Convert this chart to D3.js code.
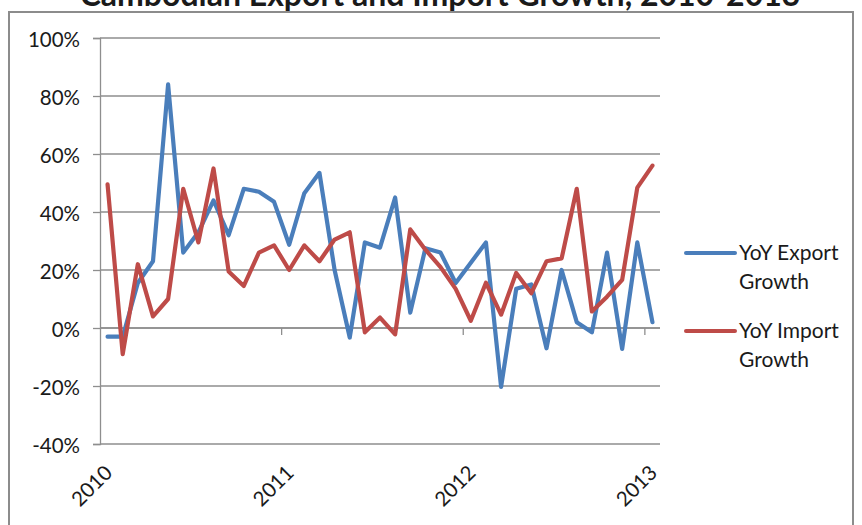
<!DOCTYPE html>
<html>
<head>
<meta charset="utf-8">
<script src="https://cdn.jsdelivr.net/npm/d3@7"></script>
<style>
  html, body { margin: 0; padding: 0; background: #fff; }
  svg { display: block; }
  text { font-family: Lato, "Open Sans", sans-serif; fill: #1a1a1a; }
</style>
</head>
<body>
<svg id="chart" width="862" height="525"></svg>
<script>
// ---- data ----
const title = "Cambodian Export and Import Growth, 2010-2013";
const categories = d3.range(37).map(i => (i % 12 === 0) ? String(2010 + i / 12) : "");
const exportGrowth = [
  -3, -3, 15.5, 23, 84, 26, 33, 44, 32, 48, 47, 43.5,
  28.7, 46.5, 53.5, 20, -3.3, 29.5, 27.7, 45, 5.3, 27.5, 26, 15.5,
  22.5, 29.5, -20.3, 13.5, 15, -7, 20, 2, -1.5, 26, -7.2, 29.5,
  2
];
const importGrowth = [
  49.5, -9, 22, 4, 10, 48, 29.5, 55, 19.5, 14.5, 26, 28.5,
  20, 28.5, 23, 30.5, 33, -1.5, 3.6, -2.2, 34, 27, 21, 13.5,
  2.5, 15.6, 4.6, 19, 12, 23, 24, 48, 5.7, 10.8, 16.6, 48.4,
  56
];
const yTicks = [-40, -20, 0, 20, 40, 60, 80, 100];
const seriesNames = ["YoY Export Growth", "YoY Import Growth"];
const seriesColors = ["#4a7ebb", "#be4b48"];

// ---- layout ----
const svg = d3.select("#chart");
const plot = { left: 100, right: 660, top: 38, bottom: 444 };

// outer frame
svg.append("path")
  .attr("d", "M9,530 L9,12 L853,12 L853,530")
  .attr("fill", "none").attr("stroke", "#8c8c8c").attr("stroke-width", 2);

// title (cut off at top like the reference)
svg.append("text")
  .attr("x", 440).attr("y", 6)
  .attr("text-anchor", "middle")
  .attr("font-size", 32).attr("font-weight", "bold")
  .text(title);

const x = d3.scaleLinear().domain([-0.5, categories.length - 0.5]).range([plot.left, plot.right]);
const y = d3.scaleLinear().domain([-40, 100]).range([plot.bottom, plot.top]);

// gridlines
svg.append("g").selectAll("line").data(yTicks).join("line")
  .attr("x1", plot.left).attr("x2", plot.right)
  .attr("y1", d => y(d)).attr("y2", d => y(d))
  .attr("stroke", "#8e8e8e").attr("stroke-width", 1.3);

// y axis
const yAxis = svg.append("g")
  .attr("transform", `translate(${plot.left},0)`)
  .call(d3.axisLeft(y).tickValues(yTicks).tickSize(7).tickPadding(13).tickFormat(d => d + "%"));
yAxis.select(".domain").attr("stroke", "#8e8e8e").attr("stroke-width", 1.3);
yAxis.selectAll(".tick line").attr("stroke", "#8e8e8e").attr("stroke-width", 1.3);
yAxis.selectAll(".tick text").attr("font-size", 20.5).attr("font-family", "Lato, sans-serif").attr("fill", "#1a1a1a").attr("dy", "0.4em");

// x axis along 0% line, ticks between yearly categories
const boundaries = d3.range(0, categories.length + 1, 12).map(i => i - 0.5).filter(v => v > -0.5);
const xAxisG = svg.append("g").attr("transform", `translate(0,${y(0)})`);
xAxisG.append("line")
  .attr("x1", plot.left).attr("x2", plot.right).attr("y1", 0).attr("y2", 0)
  .attr("stroke", "#8e8e8e").attr("stroke-width", 1.3);
xAxisG.selectAll("line.tk").data(boundaries).join("line").attr("class", "tk")
  .attr("x1", d => x(d)).attr("x2", d => x(d)).attr("y1", 0).attr("y2", 7)
  .attr("stroke", "#8e8e8e").attr("stroke-width", 1.3);

// x labels at bottom, rotated
svg.append("g").selectAll("text")
  .data(categories.map((c, i) => ({ c, i })).filter(d => d.c !== ""))
  .join("text")
  .attr("transform", d => `translate(${x(d.i) + 6},474) rotate(-45)`)
  .attr("text-anchor", "end")
  .attr("font-size", 20.5)
  .text(d => d.c);

// lines
const line = d3.line().x((d, i) => x(i)).y(d => y(d));
[exportGrowth, importGrowth].forEach((s, k) => {
  svg.append("path").datum(s)
    .attr("d", line)
    .attr("fill", "none")
    .attr("stroke", seriesColors[k])
    .attr("stroke-width", 4.2)
    .attr("stroke-linejoin", "round")
    .attr("stroke-linecap", "round");
});

// legend
const legendY = [253, 331];
seriesNames.forEach((name, k) => {
  const g = svg.append("g");
  g.append("line")
    .attr("x1", 686).attr("x2", 735).attr("y1", legendY[k]).attr("y2", legendY[k])
    .attr("stroke", seriesColors[k]).attr("stroke-width", 4).attr("stroke-linecap", "round");
  const words = name.split(" ");
  const l1 = words.slice(0, 2).join(" ");
  const l2 = words.slice(2).join(" ");
  g.append("text").attr("x", 739).attr("y", legendY[k] + 7).attr("font-size", 21).text(l1);
  g.append("text").attr("x", 739).attr("y", legendY[k] + 36).attr("font-size", 21).text(l2);
});
</script>
</body>
</html>
